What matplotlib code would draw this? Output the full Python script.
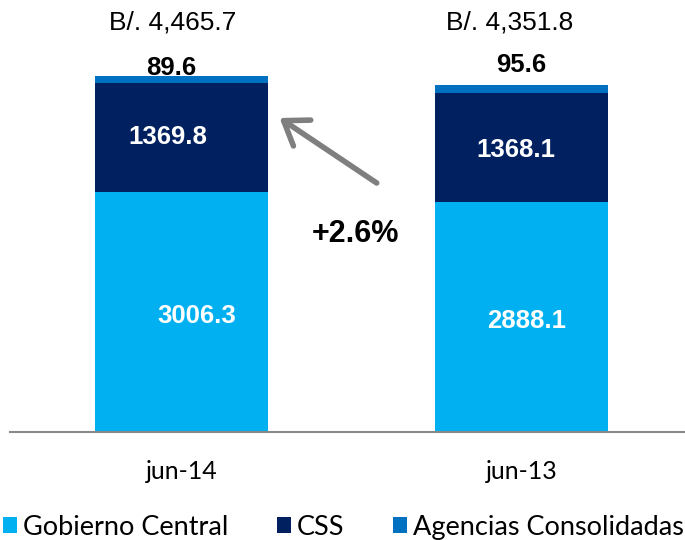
import numpy as np
import matplotlib.pyplot as plt

# Datos
periodos = ["jun-14", "jun-13"]
gobierno_central = [3006.3, 2888.1]
css = [1369.8, 1368.1]
agencias = [89.6, 95.6]

series = ["Gobierno Central", "CSS", "Agencias Consolidadas"]
colores = ["#00B0F0", "#002060", "#0070C0"]

gc = np.array(gobierno_central)
cs = np.array(css)
ag = np.array(agencias)
totales = gc + cs + ag
crecimiento = (totales[0] / totales[1] - 1) * 100

fig = plt.figure(figsize=(6.85, 5.4), dpi=100)
ax = fig.add_axes([10 / 685, 108 / 540, 675 / 685, 432 / 540])

x = np.arange(len(periodos))
ancho = 0.509
b1 = ax.bar(x, gc, ancho, color=colores[0], label=series[0])
b2 = ax.bar(x, cs, ancho, bottom=gc, color=colores[1], label=series[1])
b3 = ax.bar(x, ag, ancho, bottom=gc + cs, color=colores[2], label=series[2])

ax.set_xlim(-0.506, 1.482)
ax.set_ylim(0, 5420)

# Etiquetas dentro de las barras
dx_css = [-0.04, -0.015]
dx_gc = [0.044, 0.015]
for i in range(len(periodos)):
    ax.text(x[i] + dx_gc[i], gc[i] / 2 - 135, f"{gc[i]:.1f}", color="white",
            fontsize=18.5, fontweight="bold", ha="center", va="baseline",
            family="Liberation Sans")
    ax.text(x[i] + dx_css[i], gc[i] + cs[i] / 2 - 80 + (i * -40), f"{cs[i]:.1f}",
            color="white", fontsize=18.5, fontweight="bold", ha="center",
            va="baseline", family="Liberation Sans")

# Agencias y totales encima
dx_ag = [-0.03, 0.0]
dy_ag = [4479, 4517]
dx_tot = [-0.026, -0.035]
for i in range(len(periodos)):
    ax.text(x[i] + dx_ag[i], dy_ag[i], f"{ag[i]:.1f}", fontsize=18.5,
            fontweight="bold", ha="center", va="baseline", family="Liberation Sans")
    ax.text(x[i] + dx_tot[i], 5044, f"B/. {totales[i]:,.1f}", fontsize=19,
            ha="center", va="baseline", family="Liberation Sans")

# Flecha de crecimiento
ax.annotate("", xy=(0.288, 3940), xytext=(0.574, 3124),
            arrowprops=dict(arrowstyle="->,head_length=1.0,head_width=0.7",
                            lw=4, color="#7F7F7F", mutation_scale=16,
                            shrinkA=0, shrinkB=0))
ax.text(0.512, 2384, f"+{crecimiento:.1f}%", fontsize=22, fontweight="bold",
        ha="center", va="baseline", family="Liberation Sans")

# Ejes
for s in ["top", "right", "left"]:
    ax.spines[s].set_visible(False)
ax.spines["bottom"].set_color("#898989")
ax.spines["bottom"].set_linewidth(1.5)
ax.set_yticks([])
ax.set_xticks(x)
ax.set_xticklabels(periodos, fontsize=18, family="Lato")
ax.tick_params(axis="x", length=0, pad=20)

fig.legend(handles=[b1, b2, b3], labels=series, ncol=3, loc="lower left",
           bbox_to_anchor=(0.0, -0.005), frameon=False,
           prop={"family": "Lato", "size": 19.5}, handlelength=0.52,
           handleheight=0.52, handletextpad=0.22, columnspacing=1.8,
           borderpad=0.1, borderaxespad=0.0)

fig.savefig("out.png", dpi=100)
